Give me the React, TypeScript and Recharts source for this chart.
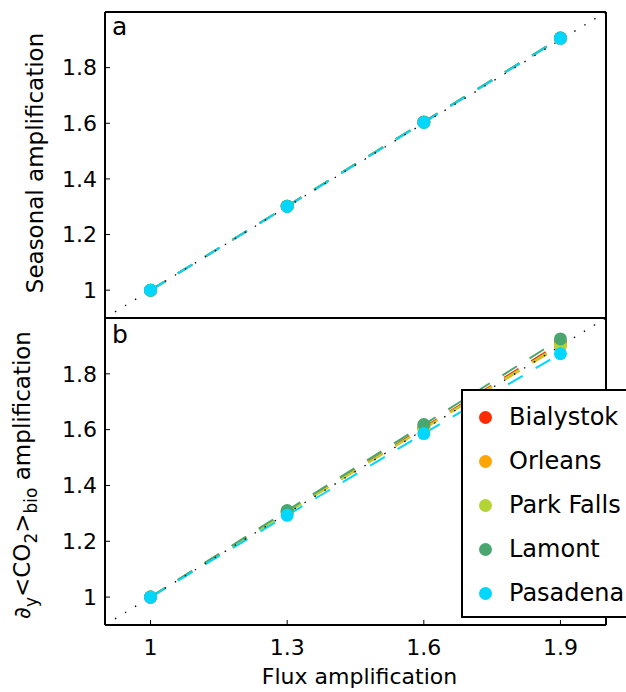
import React from 'react';
import { LineChart, Line, XAxis, YAxis } from 'recharts';

// Flux amplification factors (x) and axis tick values
const fluxAmplification = [1, 1.3, 1.6, 1.9];
const xTicks = [1, 1.3, 1.6, 1.9];
const yTicks = [1, 1.2, 1.4, 1.6, 1.8];

// Sites and their colours
const sites = ['Bialystok', 'Orleans', 'Park Falls', 'Lamont', 'Pasadena'];
const siteColors = ['#ff2a00', '#ffa500', '#b4d334', '#4aa66f', '#00d7ff'];

// Panel a: seasonal amplification per site
const seasonalBialystok = [1, 1.302, 1.604, 1.906];
const seasonalOrleans = [1, 1.302, 1.604, 1.905];
const seasonalParkFalls = [1, 1.302, 1.604, 1.905];
const seasonalLamont = [1, 1.302, 1.605, 1.907];
const seasonalPasadena = [1, 1.301, 1.603, 1.905];

// Panel b: amplification of the meridional gradient of biospheric CO2
const gradientBialystok = [1, 1.305, 1.608, 1.91];
const gradientOrleans = [1, 1.303, 1.603, 1.9];
const gradientParkFalls = [1, 1.304, 1.605, 1.905];
const gradientLamont = [1, 1.31, 1.618, 1.925];
const gradientPasadena = [1, 1.293, 1.586, 1.872];

// One-to-one reference line
const oneToOne = [
  { x: 0.9, y: 0.9 },
  { x: 2.0, y: 2.0 },
];

const FONT = '"DejaVu Sans", sans-serif';
const W = 626;
const H = 692;

function buildRows(series: number[][]) {
  return fluxAmplification.map((x, i) => {
    const row: Record<string, number> = { x };
    sites.forEach((s, k) => {
      row[s] = series[k][i];
    });
    return row;
  });
}

const panelA = buildRows([
  seasonalBialystok,
  seasonalOrleans,
  seasonalParkFalls,
  seasonalLamont,
  seasonalPasadena,
]);
const panelB = buildRows([
  gradientBialystok,
  gradientOrleans,
  gradientParkFalls,
  gradientLamont,
  gradientPasadena,
]);

const tickFont = { fontSize: 22, fill: '#000', fontFamily: FONT };
const axisLine = { stroke: '#000', strokeWidth: 2 };
const tickLine = { stroke: '#000', strokeWidth: 1 };

function Panel({
  rows,
  margin,
  bottomHeight,
  showXLabels,
}: {
  rows: Record<string, number>[];
  margin: { top: number; right: number; bottom: number; left: number };
  bottomHeight: number;
  showXLabels: boolean;
}) {
  return (
    <div style={{ position: 'absolute', left: 0, top: 0 }}>
      <LineChart width={W} height={H} data={rows} margin={margin}>
        <XAxis
          xAxisId="b"
          dataKey="x"
          type="number"
          domain={[0.9, 2.0]}
          ticks={xTicks}
          orientation="bottom"
          height={bottomHeight}
          tickSize={-5}
          tickMargin={19}
          axisLine={axisLine}
          tickLine={tickLine}
          tick={showXLabels ? tickFont : false}
          allowDataOverflow
          label={
            showXLabels
              ? {
                  value: 'Flux amplification',
                  position: 'insideBottom',
                  offset: 8,
                  dx: 4,
                  fontSize: 22,
                  fill: '#000',
                  fontFamily: FONT,
                }
              : undefined
          }
        />
        <XAxis
          xAxisId="t"
          dataKey="x"
          type="number"
          domain={[0.9, 2.0]}
          ticks={xTicks}
          orientation="top"
          height={1}
          tickSize={-5}
          axisLine={axisLine}
          tickLine={tickLine}
          tick={false}
          allowDataOverflow
        />
        <YAxis
          yAxisId="l"
          type="number"
          domain={[0.9, 2.0]}
          ticks={yTicks}
          orientation="left"
          width={60}
          tickSize={-5}
          tickMargin={13}
          axisLine={axisLine}
          tickLine={tickLine}
          tick={tickFont}
          allowDataOverflow
        />
        <YAxis
          yAxisId="r"
          type="number"
          domain={[0.9, 2.0]}
          ticks={yTicks}
          orientation="right"
          width={1}
          tickSize={-5}
          axisLine={axisLine}
          tickLine={tickLine}
          tick={false}
          allowDataOverflow
        />
        {sites.map((s, k) => (
          <Line
            key={s}
            xAxisId="b"
            yAxisId="l"
            dataKey={s}
            stroke={siteColors[k]}
            strokeWidth={2}
            strokeDasharray="17 15"
            dot={{ r: 6.5, fill: siteColors[k], stroke: 'none' }}
            activeDot={false}
            isAnimationActive={false}
          />
        ))}
        <Line
          xAxisId="b"
          yAxisId="l"
          data={oneToOne}
          dataKey="y"
          stroke="#000"
          strokeWidth={1.3}
          strokeDasharray="1.5 10.2"
          dot={false}
          activeDot={false}
          isAnimationActive={false}
        />
      </LineChart>
    </div>
  );
}

export default function App() {
  return (
    <div
      style={{
        position: 'absolute',
        left: 0,
        top: 0,
        width: W,
        height: H,
        background: '#fff',
        fontFamily: FONT,
        overflow: 'hidden',
      }}
    >
      <Panel
        rows={panelA}
        margin={{ top: 11, right: 19, bottom: 373, left: 45 }}
        bottomHeight={1}
        showXLabels={false}
      />
      <Panel
        rows={panelB}
        margin={{ top: 317, right: 19, bottom: 0, left: 45 }}
        bottomHeight={67}
        showXLabels
      />
      <svg
        width={W}
        height={H}
        style={{ position: 'absolute', left: 0, top: 0, pointerEvents: 'none' }}
        fontFamily={FONT}
      >
        <text x={112} y={35} fontSize={25} fill="#000">
          a
        </text>
        <text x={112} y={343} fontSize={25} fill="#000">
          b
        </text>
        <text
          transform="rotate(-90, 43, 163)"
          x={43}
          y={163}
          fontSize={23}
          textAnchor="middle"
          fill="#000"
        >
          Seasonal amplification
        </text>
        <text
          transform="rotate(-90, 30, 475)"
          x={30}
          y={475}
          fontSize={23}
          textAnchor="middle"
          fill="#000"
        >
          ∂
          <tspan fontSize={17} dy={7}>
            y
          </tspan>
          <tspan dy={-7}>{'<CO'}</tspan>
          <tspan fontSize={17} dy={7}>
            2
          </tspan>
          <tspan dy={-7}>{'>'}</tspan>
          <tspan fontSize={17} dy={7}>
            bio
          </tspan>
          <tspan dy={-7}> amplification</tspan>
        </text>
      </svg>
      <div
        style={{
          position: 'absolute',
          left: 461,
          top: 389,
          width: 165,
          height: 229,
          boxSizing: 'border-box',
          border: '2px solid #000',
          borderRight: 'none',
          background: '#fff',
        }}
      >
        {sites.map((s, k) => (
          <div
            key={s}
            style={{
              position: 'absolute',
              left: 16,
              top: 8 + k * 44,
              height: 36,
              display: 'flex',
              alignItems: 'center',
              whiteSpace: 'nowrap',
            }}
          >
            <span
              style={{
                display: 'inline-block',
                width: 13,
                height: 13,
                borderRadius: '50%',
                background: siteColors[k],
                marginRight: 17,
              }}
            />
            <span style={{ fontSize: 24, color: '#000', lineHeight: '36px' }}>{s}</span>
          </div>
        ))}
      </div>
    </div>
  );
}
